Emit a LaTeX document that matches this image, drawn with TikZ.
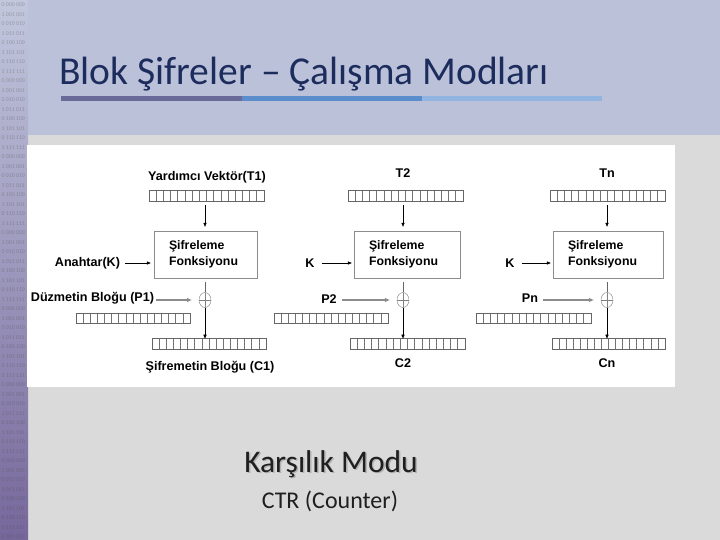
\documentclass[tikz,border=0pt]{standalone}
\usepackage{fontspec}
\usetikzlibrary{arrows.meta,shapes.geometric,calc}
\setmainfont{Carlito}
\newfontfamily\diagfont{Liberation Sans}
\definecolor{bandblue}{HTML}{BCC1DA}
\definecolor{slidegrey}{HTML}{DADADA}
\definecolor{titlenavy}{HTML}{1C2C5C}
\definecolor{barone}{HTML}{6A6A98}
\definecolor{bartwo}{HTML}{5B8CCB}
\definecolor{barthree}{HTML}{92B4E0}
\definecolor{stripA}{HTML}{C2C7DD}
\definecolor{stripB}{HTML}{A4A3C8}
\definecolor{stripC}{HTML}{76679B}
\newcommand{\bitpattern}[1]{\ifcase#1 0 000 000\or 1 001 001\or 0 010 010\or 1 011 011\or 0 100 100\or 1 101 101\or 0 110 110\or 1 111 111\fi}

\tikzset{
  lbl/.style={font=\diagfont\bfseries\fontsize{12.6}{14}\selectfont, inner sep=0pt},
  cipherbox/.style={draw=black!45, fill=white, inner xsep=15pt, inner ysep=0pt, minimum height=47pt,
    align=left, text width=#1, font=\diagfont\bfseries\fontsize{12.3}{15.5}\selectfont},
  register/.style={draw=black!60, line width=0.7pt, minimum width=#1, minimum height=11pt, inner sep=0pt,
    path picture={\foreach \k in {1,...,15}
      \draw[black!55, line width=0.7pt] ($(path picture bounding box.south west)!\k/16!(path picture bounding box.south east)$)
        -- ($(path picture bounding box.north west)!\k/16!(path picture bounding box.north east)$);}},
  xorgate/.style={ellipse, draw=black!50, minimum width=12pt, minimum height=15pt, inner sep=0pt,
    path picture={\draw[black!50] (path picture bounding box.west) -- (path picture bounding box.east);
      \draw[black!50] (path picture bounding box.north) -- (path picture bounding box.south);}},
  flow/.style={-{Triangle[length=4pt,width=3.2pt]}, line width=0.6pt},
  ptarrow/.style={-{Triangle[length=5pt,width=3.8pt,fill=black]}, draw=black!45, line width=1.4pt},
  bitrow/.style={font=\fontsize{5.8}{7}\selectfont, text=black!70, opacity=0.35, inner sep=0pt, anchor=west},
}

\begin{document}
\begin{tikzpicture}[x=1pt, y=-1pt]
  \useasboundingbox (0,0) rectangle (720,540);

  % slide background
  \fill[slidegrey] (0,0) rectangle (720,540);
  \fill[bandblue] (0,0) rectangle (720,135);
  \shade[top color=stripA, middle color=stripB, bottom color=stripC] (0,0) rectangle (28,540);
  \foreach \r in {0,...,56} {
    \pgfmathtruncatemacro\m{mod(\r,8)}
    \node[bitrow] (bits\r) at (1.5, 5+9.5*\r) {\bitpattern{\m}};
  }

  % title
  \node[font=\fontsize{39.5}{46}\selectfont, text=titlenavy, anchor=base west, inner sep=0pt] (title) at (59,85) {Blok Şifreler – Çalışma Modları};
  \fill[barone] (61,96) rectangle (242,101);
  \fill[bartwo] (242,96) rectangle (422,101);
  \fill[barthree] (422,96) rectangle (602,101);

  % diagram area
  \fill[white] (27,145) rectangle (675,387);

  % first block
  \node[lbl] (iv1) at (207,177) {Yardımcı Vektör(T1)};
  \node[register=115pt] (reg1) at (206.5,195.5) {};
  \node[cipherbox=73pt] (box1) at (205.5,254.5) {Şifreleme\\Fonksiyonu};
  \node[lbl] (key1) at (87.5,263) {Anahtar(K)};
  \node[xorgate] (xor1) at (205,300) {};
  \node[lbl] (ptext1) at (92.5,298) {Düzmetin Bloğu (P1)};
  \node[register=114pt, minimum height=10pt] (preg1) at (133,318) {};
  \node[register=114pt] (creg1) at (209,343.5) {};
  \node[lbl] (ctext1) at (210,367) {Şifremetin Bloğu (C1)};

  \draw[flow, shorten <=4pt, shorten >=4pt] (reg1.south -| xor1) -- (box1.north -| xor1);
  \draw[flow, shorten <=5pt, shorten >=3pt] (key1.east) -- (box1.west |- key1);
  \draw[black!60, line width=0.6pt, shorten <=4pt] (box1.south -| xor1) -- (xor1.north);
  \draw[ptarrow, shorten <=2pt, shorten >=7pt] (ptext1.east |- xor1) -- (xor1.west);
  \draw[flow] (xor1.south) -- ([yshift=-1pt]creg1.north -| xor1);

  % second block
  \node[lbl] (iv2) at (403,173) {T2};
  \node[register=115pt] (reg2) at (405.5,195.5) {};
  \node[cipherbox=76pt] (box2) at (407,254.5) {Şifreleme\\Fonksiyonu};
  \node[lbl] (key2) at (310,263) {K};
  \node[xorgate] (xor2) at (403,300) {};
  \node[lbl] (ptext2) at (329,299) {P2};
  \node[register=114pt, minimum height=10pt] (preg2) at (331,318) {};
  \node[register=115pt] (creg2) at (407.5,343.5) {};
  \node[lbl] (ctext2) at (403,363) {C2};

  \draw[flow, shorten <=4pt, shorten >=4pt] (reg2.south -| xor2) -- (box2.north -| xor2);
  \draw[flow, shorten <=7pt, shorten >=2pt] (key2.east) -- (box2.west |- key2);
  \draw[black!60, line width=0.6pt, shorten <=4pt] (box2.south -| xor2) -- (xor2.north);
  \draw[ptarrow, shorten <=5pt, shorten >=7pt] (ptext2.east |- xor2) -- (xor2.west);
  \draw[flow] (xor2.south) -- ([yshift=-1pt]creg2.north -| xor2);

  % last block
  \node[lbl] (iv3) at (607,173) {Tn};
  \node[register=115pt] (reg3) at (607.5,195.5) {};
  \node[cipherbox=80pt] (box3) at (608,254.5) {Şifreleme\\Fonksiyonu};
  \node[lbl] (key3) at (510,263) {K};
  \node[xorgate] (xor3) at (607,300) {};
  \node[lbl] (ptext3) at (530,298) {Pn};
  \node[register=115pt, minimum height=10pt] (preg3) at (533.5,318) {};
  \node[register=113pt] (creg3) at (608.5,343.5) {};
  \node[lbl] (ctext3) at (607,363) {Cn};

  \draw[flow, shorten <=4pt, shorten >=4pt] (reg3.south -| xor3) -- (box3.north -| xor3);
  \draw[flow, shorten <=7pt, shorten >=2pt] (key3.east) -- (box3.west |- key3);
  \draw[black!60, line width=0.6pt, shorten <=4pt] (box3.south -| xor3) -- (xor3.north);
  \draw[ptarrow, shorten <=5pt, shorten >=7pt] (ptext3.east |- xor3) -- (xor3.west);
  \draw[flow] (xor3.south) -- ([yshift=-1pt]creg3.north -| xor3);

  % mode name
  \node[font=\fontsize{31.5}{36}\selectfont, text=black!30, anchor=base, inner sep=0pt] (modeshadow) at (332.5,473.5) {Karşılık Modu};
  \node[font=\fontsize{31.5}{36}\selectfont, text=black!88, anchor=base, inner sep=0pt] (mode) at (331,472) {Karşılık Modu};
  \node[font=\fontsize{24}{28}\selectfont, text=black!88, anchor=base, inner sep=0pt] (submode) at (330,508) {CTR (Counter)};
\end{tikzpicture}
\end{document}
